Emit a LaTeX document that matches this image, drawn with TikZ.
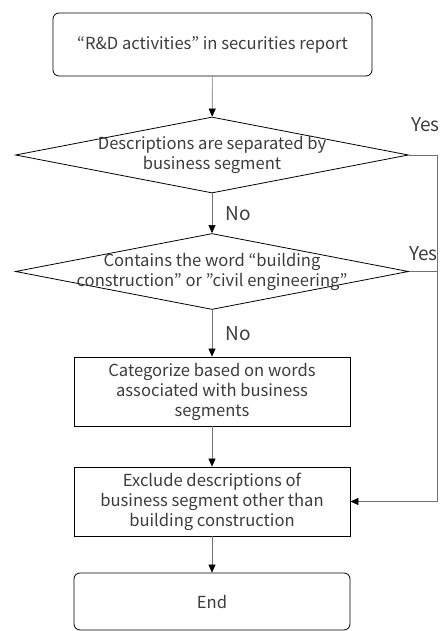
\documentclass[tikz,border=0pt]{standalone}
\usepackage{fontspec}
\setmainfont{Noto Sans CJK JP}
\usetikzlibrary{shapes.geometric,arrows.meta}
\definecolor{txtgray}{HTML}{3C3C3C}
\definecolor{linegray}{HTML}{707070}

\begin{document}
\begin{tikzpicture}[x=1pt, y=-1pt,
    every node/.style={font=\fontsize{16.6}{20}\selectfont, text=txtgray},
    terminal/.style={draw=black, thick, rounded corners=6pt, minimum width=319pt, minimum height=63pt, align=center},
    process/.style={draw=black, thick, minimum width=276pt, minimum height=69pt, align=center, inner sep=0pt},
    decision/.style={draw=black, thick, diamond, minimum width=393pt, minimum height=76pt, inner sep=0pt},
    answer/.style={font=\fontsize{19}{20}\selectfont, inner sep=0pt},
    flow/.style={draw=linegray, semithick, -{Triangle[length=8pt, width=7pt, black]}}]
    \useasboundingbox (0,0) rectangle (446,631);
    \node[terminal] (start) at (212.5,44.5) {“R\&D activities” in securities report};
    \node[decision, label={[align=center, text=txtgray]center:Descriptions are separated by\\business segment}] (dec1) at (212,155) {};
    \node[decision, label={[align=center, text=txtgray]center:Contains the word “building\\construction” or ”civil engineering”}] (dec2) at (212,271.5) {};
    \node[process] (cat) at (212,391.5) {Categorize based on words\\associated with business\\segments};
    \node[process] (excl) at (212,501.5) {Exclude descriptions of\\business segment other than\\building construction};
    \node[terminal, minimum width=276pt, minimum height=57pt] (end) at (212,601.5) {End};
    \coordinate (side) at (437,155);
    \draw[flow] (start) -- (dec1);
    \draw[flow] (dec1) -- node[answer, right, xshift=13pt] (no1) {No} (dec2);
    \draw[flow] (dec2) -- node[answer, right, xshift=13pt] (no2) {No} (cat);
    \draw[flow] (cat) -- (excl);
    \draw[flow] (excl) -- (end);
    \draw[flow] (dec1.east) -- (side) |- (excl.east);
    \draw[draw=linegray, semithick] (dec2.east) -- (dec2.east -| side);
    \node[answer, anchor=west] (yes1) at (411,125) {Yes};
    \node[answer, anchor=west] (yes2) at (409,254) {Yes};
\end{tikzpicture}
\end{document}
